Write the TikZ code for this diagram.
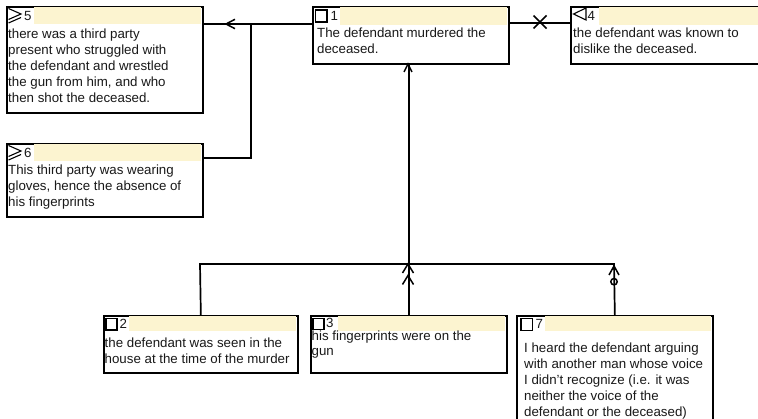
\documentclass[tikz,border=0pt]{standalone}
\usepackage{fontspec}
\setmainfont{Liberation Sans}
\usetikzlibrary{calc}
\definecolor{hdr}{RGB}{252,244,208}
\definecolor{txtc}{RGB}{25,25,25}
\newcommand{\firstrule}{\rule{0pt}{12pt}}
\begin{document}
\begin{tikzpicture}[x=1pt,y=-1pt,
  box/.style={draw=black,line width=1.7pt,fill=white,anchor=north west,inner sep=0pt},
  conn/.style={line width=1.7pt,draw=black},
  tip/.style={line width=1.5pt,draw=black},
  sym/.style={line width=1.1pt,draw=black},
  txt/.style={anchor=north west,inner sep=0pt,align=left,text=txtc,font=\fontsize{13.3}{16}\selectfont},
  num/.style={anchor=base west,inner sep=0pt,text=txtc,font=\fontsize{13.3}{16}\selectfont}]
\useasboundingbox (0,0) rectangle (758,419);
\clip (0,0) rectangle (758,419);
\coordinate (j) at (251,24);
\coordinate (barL) at (200,264);
\coordinate (barR) at (614,264);
% ---------- boxes ----------
\node[box,minimum width=196pt,minimum height=106pt] (b5) at (6,6) {};
\node[box,minimum width=196pt,minimum height=57pt] (b1) at (312,6) {};
\node[box,minimum width=200pt,minimum height=57pt] (b4) at (570,6) {};
\node[box,minimum width=196pt,minimum height=73pt] (b6) at (6,143) {};
\node[box,minimum width=194pt,minimum height=57pt] (b2) at (103,315) {};
\node[box,minimum width=196pt,minimum height=57pt] (b3) at (310,315) {};
\node[box,minimum width=196pt,minimum height=120pt] (b7) at (516,315) {};
% header bands
\fill[hdr] (34,6.9) rectangle (201.1,24);
\fill[hdr] (340,6.9) rectangle (507.1,25);
\fill[hdr] (599,6.9) rectangle (758,25);
\fill[hdr] (34,143.9) rectangle (201.1,161);
\fill[hdr] (129,315.9) rectangle (296.1,331);
\fill[hdr] (338,315.9) rectangle (505.1,331);
\fill[hdr] (545,315.9) rectangle (711.1,331);
% header symbols
\draw[sym] (8.5,8.5) -- (21,14) -- (8.5,19.5) (21,17.5) -- (8.5,23);
\draw[sym] (8.5,145.5) -- (21,151) -- (8.5,156.5) (21,154.5) -- (8.5,160);
\draw[sym] (315.5,10) rectangle (327,22);
\draw[sym] (586,8) -- (573.5,14) -- (586,20) -- cycle;
\draw[sym] (106,318.5) rectangle (117,330);
\draw[sym] (313,318.5) rectangle (324,329.5);
\draw[sym] (521,318.5) rectangle (532.5,330.5);
% header numbers
\node[num] (n5) at (24,21) {5};
\node[num] (n1) at (330.5,21) {1};
\node[num] (n4) at (587.5,20.5) {4};
\node[num] (n6) at (24,158) {6};
\node[num] (n2) at (119.5,328.5) {2};
\node[num] (n3) at (326,327.3) {3};
\node[num] (n7) at (535.5,329) {7};
% texts
\node[txt] (t5) at (8,26.5) {\firstrule there was a third party\\present who struggled with\\the defendant and wrestled\\the gun from him, and who\\then shot the deceased.};
\node[txt] (t1) at (317,25.5) {\firstrule The defendant murdered the\\deceased.};
\node[txt] (t4) at (573,25.5) {\firstrule the defendant was known to\\dislike the deceased.};
\node[txt] (t6) at (8,162) {\firstrule This third party was wearing\\gloves, hence the absence of\\his fingerprints};
\node[txt] (t2) at (104.5,335.5) {\firstrule the defendant was seen in the\\house at the time of the murder};
\node[txt,font=\fontsize{13.3}{15}\selectfont] (t3) at (311.5,330.5) {\rule{0pt}{10pt}his fingerprints were on the\\gun};
\node[txt] (t7) at (524,340) {\firstrule I heard the defendant arguing\\with another man whose voice\\I didn’t recognize (i.e. it was\\neither the voice of the\\defendant or the deceased)};
% ---------- connectors ----------
\draw[conn] ($(b5.north east)+(0,18)$) -- ($(b1.north west)+(0,18)$);
\draw[tip] (235,19.3) -- (226,24) -- (235,28.7);
\draw[conn] ($(b6.north east)+(0,15)$) -| (j);
\draw[conn] ($(b1.north east)+(0,17)$) -- ($(b4.north west)+(0,17)$);
\draw[tip] (533.5,15.5) -- (546.5,28.5) (533.5,28.5) -- (546.5,15.5);
\draw[conn] (b2.north) -- (barL) -- (barR) -- (b7.north);
\draw[conn] (b3.north) -- (b3.north |- b1.south);
\draw[tip] (404,72) -- (408,64) -- (412,72);
\draw[tip] (402.5,273) -- (408,264) -- (413.5,273);
\draw[tip] (402.5,284.5) -- (408,275.5) -- (413.5,284.5);
\draw[tip] (609,275) -- (614,266) -- (619,275);
\draw[tip] (614,281.7) circle (3.2);
\end{tikzpicture}
\end{document}
